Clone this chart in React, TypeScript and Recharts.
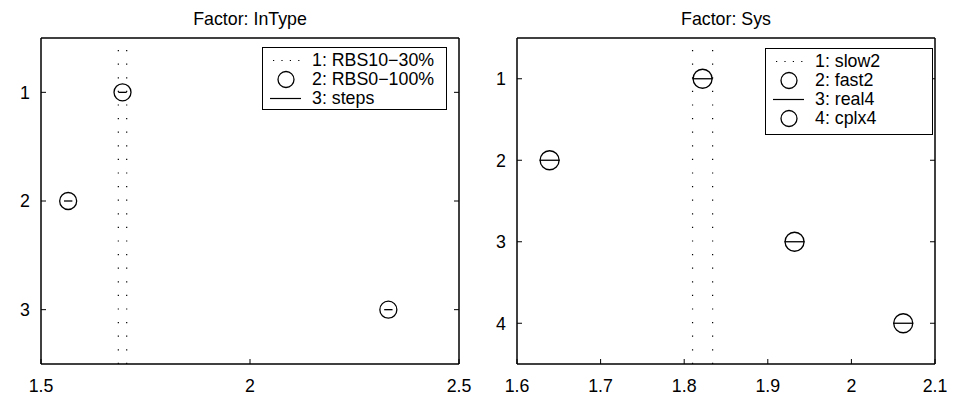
import {
  ScatterChart,
  Scatter,
  XAxis,
  YAxis,
  ErrorBar,
  ReferenceLine,
  Legend,
} from "recharts";

const FONT = "'Liberation Sans', Arial, Helvetica, sans-serif";

// Factor: InType -- group means and comparison interval half widths
const inTypeGroups = [1, 2, 3];
const inTypeMeans = [1.695, 1.565, 2.331];
const inTypeHalf = [0.01, 0.01, 0.01];
const inTypeLabels = ["1: RBS10\u221230%", "2: RBS0\u2212100%", "3: steps"];
const inTypeXTicks = [1.5, 2, 2.5];
const inTypeYTicks = [1, 2, 3];

// Factor: Sys
const sysGroups = [1, 2, 3, 4];
const sysMeans = [1.822, 1.639, 1.932, 2.062];
const sysHalf = [0.012, 0.012, 0.012, 0.012];
const sysLabels = ["1: slow2", "2: fast2", "3: real4", "4: cplx4"];
const sysXTicks = [1.6, 1.7, 1.8, 1.9, 2, 2.1];
const sysYTicks = [1, 2, 3, 4];

type Sample = "dots" | "circle" | "line";

const TICK_LEN = 5;
const FONT_SIZE = 17.8;

function BottomTick({ x, y, payload }: any) {
  return (
    <g>
      <line x1={x} x2={x} y1={y} y2={y - TICK_LEN} stroke="#000" />
      <text x={x} y={y + 28} textAnchor="middle" fontSize={FONT_SIZE} fontFamily={FONT} fill="#000">
        {String(payload.value)}
      </text>
    </g>
  );
}

function TopTick({ x, y }: any) {
  return <line x1={x} x2={x} y1={y} y2={y + TICK_LEN} stroke="#000" />;
}

function LeftTick({ x, y, payload }: any) {
  return (
    <g>
      <line x1={x} x2={x + TICK_LEN} y1={y} y2={y} stroke="#000" />
      <text x={x - 11} y={y + 6.3} textAnchor="end" fontSize={FONT_SIZE} fontFamily={FONT} fill="#000">
        {String(payload.value)}
      </text>
    </g>
  );
}

function RightTick({ x, y }: any) {
  return <line x1={x} x2={x - TICK_LEN} y1={y} y2={y} stroke="#000" />;
}

function makeMarker(r: number) {
  return function Marker({ cx, cy }: any) {
    return <circle cx={cx} cy={cy} r={r} fill="none" stroke="#000" strokeWidth={1.3} />;
  };
}

function SampleIcon({ kind }: { kind: Sample }) {
  return (
    <svg width={34} height={19} style={{ display: "block", flex: "none" }}>
      {kind === "dots" && (
        <line x1={5} x2={32} y1={9.5} y2={9.5} stroke="#000" strokeWidth={1.2} strokeDasharray="1.2 7.2" />
      )}
      {kind === "line" && <line x1={2} x2={33} y1={9.5} y2={9.5} stroke="#000" strokeWidth={1.2} />}
      {kind === "circle" && <circle cx={18} cy={9.5} r={8} fill="none" stroke="#000" strokeWidth={1.3} />}
    </svg>
  );
}

function LegendBox({ labels, samples }: { labels: string[]; samples: Sample[] }) {
  return (
    <div
      style={{
        border: "1.5px solid #000",
        background: "#fff",
        boxSizing: "border-box",
        height: "100%",
        padding: "3px 0 0 5px",
        fontFamily: FONT,
        fontSize: FONT_SIZE,
        color: "#000",
      }}
    >
      {labels.map((l, i) => (
        <div key={l} style={{ display: "flex", alignItems: "center", height: 19, whiteSpace: "nowrap" }}>
          <SampleIcon kind={samples[i]} />
          <span style={{ marginLeft: 10, lineHeight: "19px" }}>{l}</span>
        </div>
      ))}
    </div>
  );
}

type PanelProps = {
  title: string;
  width: number;
  leftAxis: number;
  rightAxis: number;
  groups: number[];
  means: number[];
  half: number[];
  markerR: number;
  xDomain: [number, number];
  xTicks: number[];
  yDomain: [number, number];
  yTicks: number[];
  labels: string[];
  samples: Sample[];
  legendBox: { left: number; top: number; width: number; height: number };
};

function Panel(p: PanelProps) {
  const data = p.groups.map((g, i) => ({ x: p.means[i], y: g, err: p.half[i] }));
  const lo = p.means[0] - p.half[0];
  const hi = p.means[0] + p.half[0];
  const plotCenter = p.leftAxis + (p.width - p.leftAxis - p.rightAxis) / 2;
  const Marker = makeMarker(p.markerR);

  return (
    <div style={{ position: "relative", width: p.width, height: 410 }}>
      <div
        style={{
          position: "absolute",
          top: 10,
          left: plotCenter - 150,
          width: 300,
          textAlign: "center",
          fontFamily: FONT,
          fontSize: FONT_SIZE,
          lineHeight: "18px",
          color: "#000",
        }}
      >
        {p.title}
      </div>
      <ScatterChart width={p.width} height={410} margin={{ top: 0, right: 0, bottom: 0, left: 0 }}>
        <XAxis
          xAxisId="b"
          type="number"
          dataKey="x"
          domain={p.xDomain}
          ticks={p.xTicks}
          interval={0}
          height={46}
          allowDataOverflow
          tickSize={0}
          tickMargin={0}
          tickLine={false}
          tick={<BottomTick />}
          axisLine={{ stroke: "#000", strokeWidth: 1.5 }}
        />
        <XAxis
          xAxisId="t"
          orientation="top"
          type="number"
          domain={p.xDomain}
          ticks={p.xTicks}
          interval={0}
          height={38}
          allowDataOverflow
          tickSize={0}
          tickMargin={0}
          tickLine={false}
          tick={<TopTick />}
          axisLine={{ stroke: "#000", strokeWidth: 1.5 }}
        />
        <YAxis
          yAxisId="l"
          type="number"
          dataKey="y"
          reversed
          domain={p.yDomain}
          ticks={p.yTicks}
          interval={0}
          width={p.leftAxis}
          allowDataOverflow
          tickSize={0}
          tickMargin={0}
          tickLine={false}
          tick={<LeftTick />}
          axisLine={{ stroke: "#000", strokeWidth: 1.5 }}
        />
        <YAxis
          yAxisId="r"
          orientation="right"
          type="number"
          reversed
          domain={p.yDomain}
          ticks={p.yTicks}
          interval={0}
          width={p.rightAxis}
          allowDataOverflow
          tickSize={0}
          tickMargin={0}
          tickLine={false}
          tick={<RightTick />}
          axisLine={{ stroke: "#000", strokeWidth: 1.5 }}
        />
        <ReferenceLine xAxisId="b" yAxisId="l" x={lo} stroke="#000" strokeWidth={1.2} strokeDasharray="1.2 12.4" />
        <ReferenceLine xAxisId="b" yAxisId="l" x={hi} stroke="#000" strokeWidth={1.2} strokeDasharray="1.2 12.4" />
        <Scatter xAxisId="b" yAxisId="l" data={data} shape={<Marker />} isAnimationActive={false}>
          <ErrorBar dataKey="err" direction="x" width={0} stroke="#000" strokeWidth={1.3} isAnimationActive={false} />
        </Scatter>
        <Legend
          layout="vertical"
          align="center"
          verticalAlign="middle"
          content={() => <LegendBox labels={p.labels} samples={p.samples} />}
          wrapperStyle={{ ...p.legendBox, position: "absolute" }}
        />
      </ScatterChart>
    </div>
  );
}

export default function App() {
  return (
    <div style={{ position: "absolute", left: 0, top: 0, width: 956, height: 410, background: "#fff", display: "flex" }}>
      <Panel
        title="Factor: InType"
        width={480}
        leftAxis={41}
        rightAxis={21}
        groups={inTypeGroups}
        means={inTypeMeans}
        half={inTypeHalf}
        markerR={8.5}
        xDomain={[1.5, 2.5]}
        xTicks={inTypeXTicks}
        yDomain={[0.5, 3.5]}
        yTicks={inTypeYTicks}
        labels={inTypeLabels}
        samples={["dots", "circle", "line"]}
        legendBox={{ left: 262, top: 47, width: 185, height: 63 }}
      />
      <Panel
        title="Factor: Sys"
        width={476}
        leftAxis={37}
        rightAxis={21}
        groups={sysGroups}
        means={sysMeans}
        half={sysHalf}
        markerR={9.5}
        xDomain={[1.6, 2.1]}
        xTicks={sysXTicks}
        yDomain={[0.5, 4.5]}
        yTicks={sysYTicks}
        labels={sysLabels}
        samples={["dots", "circle", "line", "circle"]}
        legendBox={{ left: 285, top: 48, width: 168, height: 87 }}
      />
    </div>
  );
}
